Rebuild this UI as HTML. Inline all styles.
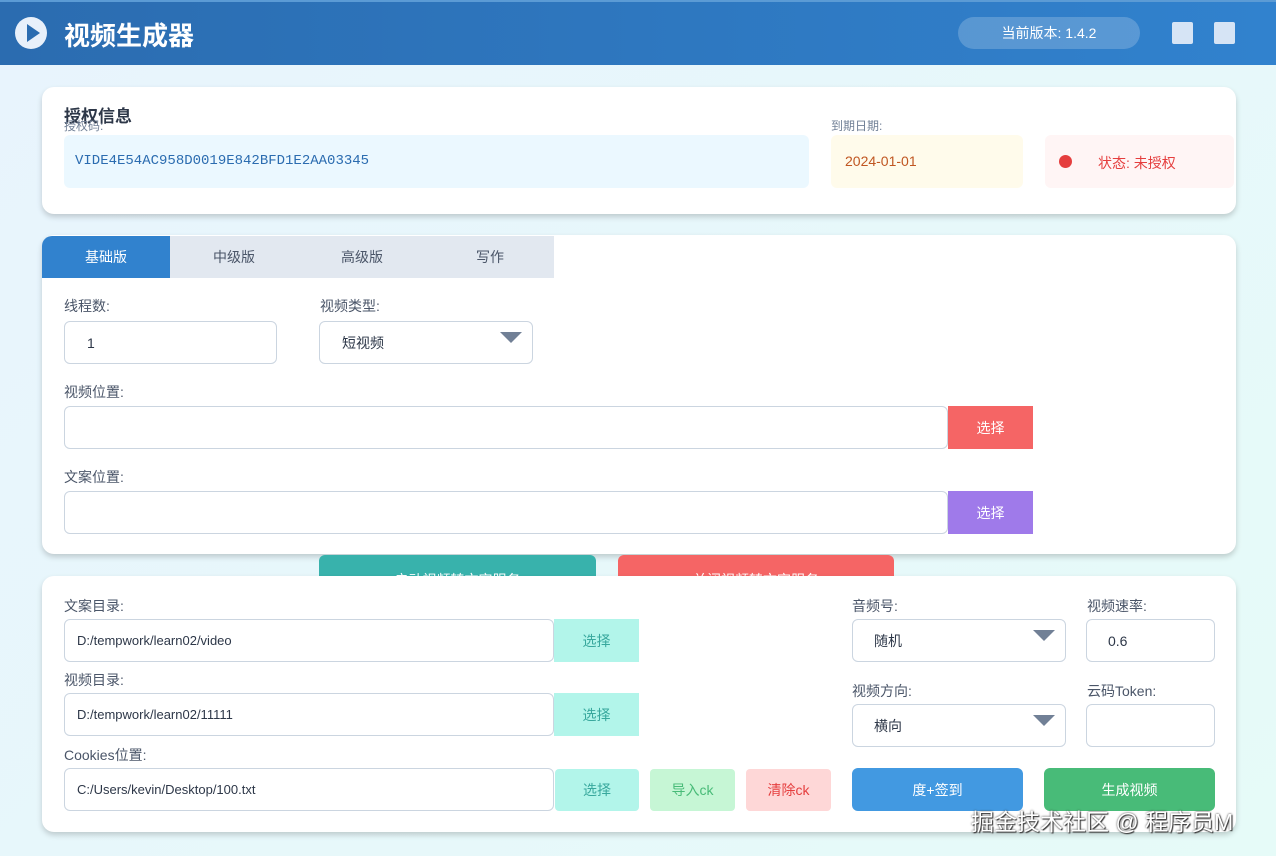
<!DOCTYPE html>
<html><head><meta charset="utf-8"><style>
*{box-sizing:border-box;margin:0;padding:0}
body{width:1276px;height:856px;overflow:hidden;position:relative;font-family:"Liberation Sans","Noto Sans CJK SC",sans-serif;background:linear-gradient(135deg,#e8f4fd,#e6fbf8);color:#4a5568}
.a{position:absolute}
.hdr{left:0;top:0;width:1276px;height:65px;background:linear-gradient(90deg,#2b6cb0,#3182ce);border-top:2px solid #5b9bd5}
.card{background:#fff;border-radius:12px;box-shadow:0 3px 6px rgba(0,0,0,0.18)}
.lbl{font-size:14px;color:#4a5568}
.inp{background:#fff;border:1px solid #cbd5e0;border-radius:6px;font-size:13px;color:#2d3748;padding-left:12px;display:flex;align-items:center}
.btn{display:flex;align-items:center;justify-content:center;font-size:14px}
.tab{top:236px;height:42px;width:128px;font-size:14px;display:flex;align-items:center;justify-content:center;background:#e2e8f0;color:#4a5568}
.tri{width:0;height:0;border-left:11px solid transparent;border-right:11px solid transparent;border-top:11px solid #718096}
</style></head><body>
<div class="a hdr"></div>
<div class="a" style="left:15px;top:17px;width:32px;height:32px;border-radius:50%;background:#e8f0fa"></div>
<div class="a" style="left:27px;top:24px;width:0;height:0;border-top:9px solid transparent;border-bottom:9px solid transparent;border-left:13px solid #2b6cb0"></div>
<div class="a" style="left:64px;top:16px;font-size:26px;font-weight:bold;color:#fff">视频生成器</div>
<div class="a btn" style="left:958px;top:17px;width:182px;height:32px;border-radius:16px;background:rgba(255,255,255,0.2);color:#fff;font-size:14px">当前版本: 1.4.2</div>
<div class="a" style="left:1172px;top:22px;width:21px;height:22px;background:#d6e4f5;border-radius:2px"></div>
<div class="a" style="left:1214px;top:22px;width:21px;height:22px;background:#d6e4f5;border-radius:2px"></div>

<div class="a card" style="left:42px;top:87px;width:1194px;height:127px"></div>
<div class="a" style="left:64px;top:102px;font-size:17px;font-weight:bold;color:#2d3748">授权信息</div>
<div class="a" style="left:64px;top:117px;font-size:12px;color:#718096">授权码:</div>
<div class="a" style="left:64px;top:135px;width:745px;height:53px;background:#ebf8ff;border-radius:6px;font-family:'Liberation Mono',monospace;font-size:14px;color:#2b6cb0;padding:18px 11px">VIDE4E54AC958D0019E842BFD1E2AA03345</div>
<div class="a" style="left:831px;top:117px;font-size:12px;color:#718096">到期日期:</div>
<div class="a" style="left:831px;top:135px;width:192px;height:53px;background:#fffbeb;border-radius:6px;font-size:14px;color:#c05621;padding:18px 14px">2024-01-01</div>
<div class="a" style="left:1045px;top:135px;width:189px;height:53px;background:#fff5f5;border-radius:6px;font-size:14px;color:#e53e3e;padding:18px 0 0 53px">状态: 未授权</div>
<div class="a" style="left:1059px;top:155px;width:13px;height:13px;border-radius:50%;background:#e53e3e"></div>

<div class="a card" style="left:42px;top:235px;width:1194px;height:319px"></div>
<div class="a tab" style="left:42px;background:#3182ce;color:#fff;border-top-left-radius:10px">基础版</div>
<div class="a tab" style="left:170px">中级版</div>
<div class="a tab" style="left:298px">高级版</div>
<div class="a tab" style="left:426px">写作</div>
<div class="a lbl" style="left:64px;top:296px">线程数:</div>
<div class="a inp" style="left:64px;top:321px;width:213px;height:43px;padding-left:22px;font-size:14px">1</div>
<div class="a lbl" style="left:320px;top:296px">视频类型:</div>
<div class="a inp" style="left:319px;top:321px;width:214px;height:43px;padding-left:22px;font-size:14px">短视频</div>
<div class="a tri" style="left:500px;top:332px"></div>
<div class="a lbl" style="left:64px;top:382px">视频位置:</div>
<div class="a inp" style="left:64px;top:406px;width:884px;height:43px"></div>
<div class="a btn" style="left:948px;top:406px;width:85px;height:43px;background:#f56565;color:#fff">选择</div>
<div class="a lbl" style="left:64px;top:467px">文案位置:</div>
<div class="a inp" style="left:64px;top:491px;width:884px;height:43px"></div>
<div class="a btn" style="left:948px;top:491px;width:85px;height:43px;background:#9f7aea;color:#fff">选择</div>

<div class="a btn" style="left:319px;top:555px;width:277px;height:40px;background:#38b2ac;color:#fff;border-radius:6px;align-items:flex-start;padding-top:15px">启动视频转文字服务</div>
<div class="a btn" style="left:618px;top:555px;width:276px;height:40px;background:#f56565;color:#fff;border-radius:6px;align-items:flex-start;padding-top:15px">关闭视频转文字服务</div>

<div class="a card" style="left:42px;top:576px;width:1194px;height:256px"></div>
<div class="a lbl" style="left:64px;top:596px">文案目录:</div>
<div class="a inp" style="left:64px;top:619px;width:490px;height:43px">D:/tempwork/learn02/video</div>
<div class="a btn" style="left:554px;top:619px;width:85px;height:43px;background:#b2f5ea;color:#38a89d">选择</div>
<div class="a lbl" style="left:64px;top:670px">视频目录:</div>
<div class="a inp" style="left:64px;top:693px;width:490px;height:43px">D:/tempwork/learn02/11111</div>
<div class="a btn" style="left:554px;top:693px;width:85px;height:43px;background:#b2f5ea;color:#38a89d">选择</div>
<div class="a lbl" style="left:64px;top:745px">Cookies位置:</div>
<div class="a inp" style="left:64px;top:768px;width:490px;height:43px">C:/Users/kevin/Desktop/100.txt</div>
<div class="a btn" style="left:555px;top:769px;width:84px;height:42px;background:#b2f5ea;color:#38a89d;border-radius:4px">选择</div>
<div class="a btn" style="left:650px;top:769px;width:85px;height:42px;background:#c6f6d5;color:#48bb78;border-radius:4px">导入ck</div>
<div class="a btn" style="left:746px;top:769px;width:85px;height:42px;background:#fed7d7;color:#e53e3e;border-radius:4px">清除ck</div>

<div class="a lbl" style="left:852px;top:596px">音频号:</div>
<div class="a inp" style="left:852px;top:619px;width:214px;height:43px;padding-left:21px;font-size:14px">随机</div>
<div class="a tri" style="left:1033px;top:630px"></div>
<div class="a lbl" style="left:1087px;top:596px">视频速率:</div>
<div class="a inp" style="left:1086px;top:619px;width:129px;height:43px;padding-left:21px;font-size:14px">0.6</div>
<div class="a lbl" style="left:852px;top:681px">视频方向:</div>
<div class="a inp" style="left:852px;top:704px;width:214px;height:43px;padding-left:21px;font-size:14px">横向</div>
<div class="a tri" style="left:1033px;top:715px"></div>
<div class="a lbl" style="left:1087px;top:681px">云码Token:</div>
<div class="a inp" style="left:1086px;top:704px;width:129px;height:43px"></div>
<div class="a btn" style="left:852px;top:768px;width:171px;height:43px;background:#4299e1;color:#fff;border-radius:6px">度+签到</div>
<div class="a btn" style="left:1044px;top:768px;width:171px;height:43px;background:#48bb78;color:#fff;border-radius:6px">生成视频</div>
<div class="a" style="left:971px;top:803px;font-size:23px;color:#fff;text-shadow:0 0 2px #333,1px 1px 1px #333;white-space:nowrap">掘金技术社区 @ 程序员M</div>
</body></html>
